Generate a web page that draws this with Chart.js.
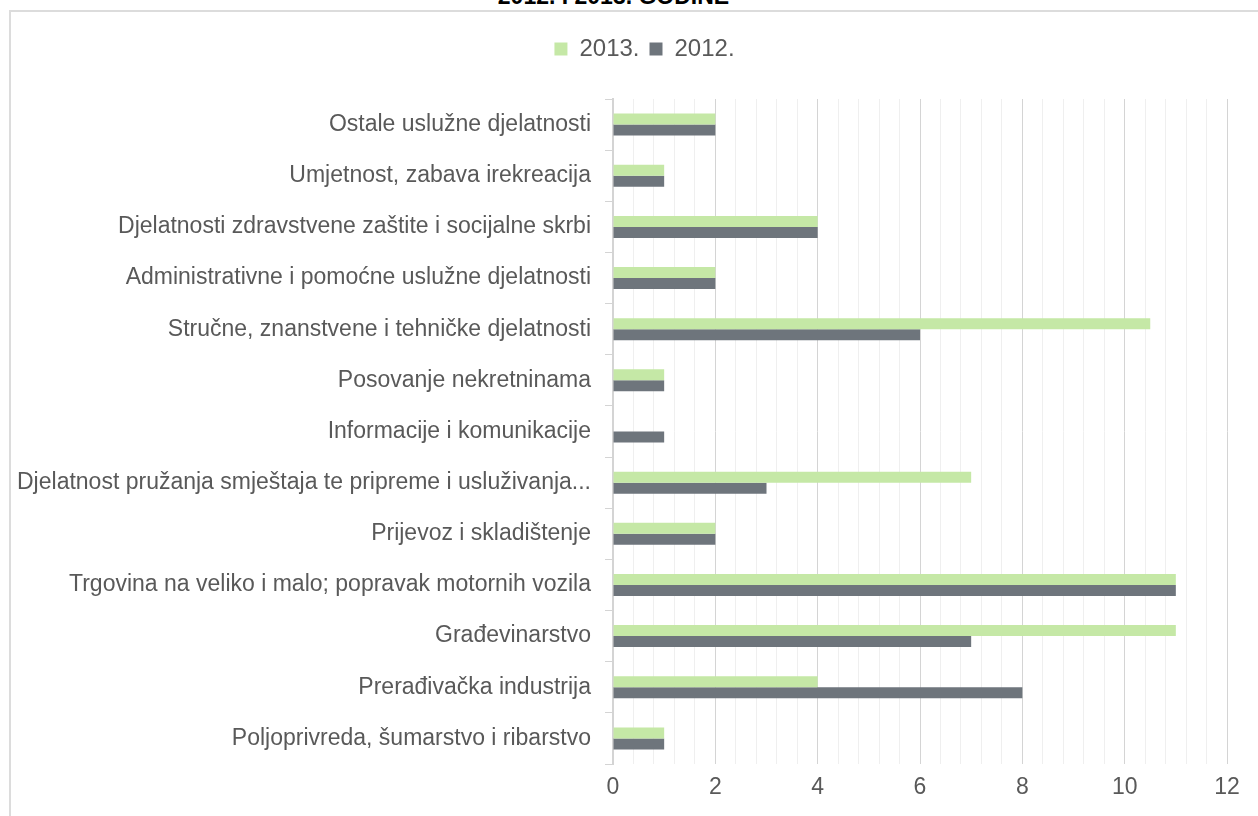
<!DOCTYPE html>
<html>
<head>
<meta charset="utf-8">
<script src="https://cdn.jsdelivr.net/npm/chart.js@4/dist/chart.umd.min.js"></script>
<style>
  html, body { margin: 0; padding: 0; background: #ffffff; overflow: hidden; }
  #page { position: relative; width: 1258px; height: 816px; overflow: hidden; }
  #frame { position: absolute; left: 9px; top: 10px; width: 1400px; height: 1000px;
           border-left: 2px solid #dcdcdc; border-top: 2px solid #dcdcdc; }
  #title { position: absolute; left: 0; top: -15px; width: 1227px; text-align: center;
           font: bold 23px "Liberation Sans", Arial, sans-serif; line-height: 23px; color: #000; }
  #wrap { position: absolute; left: 0; top: 0; width: 1258px; height: 816px; }
</style>
</head>
<body>
<div id="page">
  <div id="frame"></div>
  <div id="title">2012. I 2013. GODINE</div>
  <div id="wrap"><canvas id="c"></canvas></div>
</div>
<script>
const categories = [
  "Ostale uslužne djelatnosti",
  "Umjetnost, zabava irekreacija",
  "Djelatnosti zdravstvene zaštite i socijalne skrbi",
  "Administrativne i pomoćne uslužne djelatnosti",
  "Stručne, znanstvene i tehničke djelatnosti",
  "Posovanje nekretninama",
  "Informacije i komunikacije",
  "Djelatnost pružanja smještaja te pripreme i usluživanja...",
  "Prijevoz i skladištenje",
  "Trgovina na veliko i malo; popravak motornih vozila",
  "Građevinarstvo",
  "Prerađivačka industrija",
  "Poljoprivreda, šumarstvo i ribarstvo"
];
const values2013 = [2, 1, 4, 2, 10.5, 1, 0, 7, 2, 11, 11, 4, 1];
const values2012 = [2, 1, 4, 2, 6, 1, 1, 3, 2, 11, 7, 8, 1];
const seriesNames = ["2013.", "2012."];
const xMin = 0, xMax = 12, xMinorStep = 0.4, xMajorStep = 2;

const isMajor = v => Math.abs(v / xMajorStep - Math.round(v / xMajorStep)) < 1e-6;
const FONT = '"Liberation Sans", Arial, sans-serif';
const TXT = '#595959';

// shift the legend so it is centred like the original (Excel-style centring)
const legendShift = {
  id: 'legendShift',
  afterLayout(chart) {
    const lg = chart.legend;
    if (lg) { lg.left += 31; lg.right += 31; }
  }
};

new Chart(document.getElementById('c'), {
  type: 'bar',
  data: {
    labels: categories,
    datasets: [
      { label: seriesNames[0], data: values2013, backgroundColor: '#c5e8a6', borderWidth: 0 },
      { label: seriesNames[1], data: values2012, backgroundColor: '#6e757c', borderWidth: 0 }
    ]
  },
  plugins: [legendShift],
  options: {
    indexAxis: 'y',
    responsive: true,
    maintainAspectRatio: false,
    devicePixelRatio: 1,
    animation: false,
    categoryPercentage: 0.43,
    barPercentage: 1.0,
    layout: { padding: { top: 27, right: 31, left: 0, bottom: 0 } },
    plugins: {
      legend: {
        position: 'top',
        align: 'center',
        labels: { boxWidth: 13, boxHeight: 13, padding: 10, color: TXT,
                  font: { family: FONT, size: 24 } }
      },
      tooltip: { enabled: false }
    },
    scales: {
      x: {
        type: 'linear',
        position: 'bottom',
        min: xMin, max: xMax,
        ticks: {
          stepSize: xMinorStep,
          autoSkip: false,
          maxRotation: 0,
          padding: 10,
          color: TXT,
          font: { family: FONT, size: 23 },
          callback: v => isMajor(v) ? String(Math.round(v)) : ''
        },
        grid: {
          drawTicks: false,
          color: ctx => (ctx.tick && isMajor(ctx.tick.value)) ? '#d4d4d4' : '#efefef',
          lineWidth: 1
        },
        border: { display: false },
        afterFit: s => { s.height = 52; }
      },
      xTop: {
        type: 'linear',
        position: 'top',
        display: true,
        grid: { display: false },
        ticks: { display: false },
        border: { display: false },
        afterFit: s => { s.height = 28; }
      },
      y: {
        type: 'category',
        position: 'left',
        ticks: { padding: 14, color: TXT, font: { family: FONT, size: 23 }, autoSkip: false },
        grid: { display: true, drawOnChartArea: false, drawTicks: true, tickLength: 8,
                offset: true, color: '#d4d4d4', lineWidth: 1 },
        border: { display: true, color: '#d4d4d4', width: 2 },
        afterFit: s => { s.width = 613; }
      }
    }
  }
});
</script>
</body>
</html>
